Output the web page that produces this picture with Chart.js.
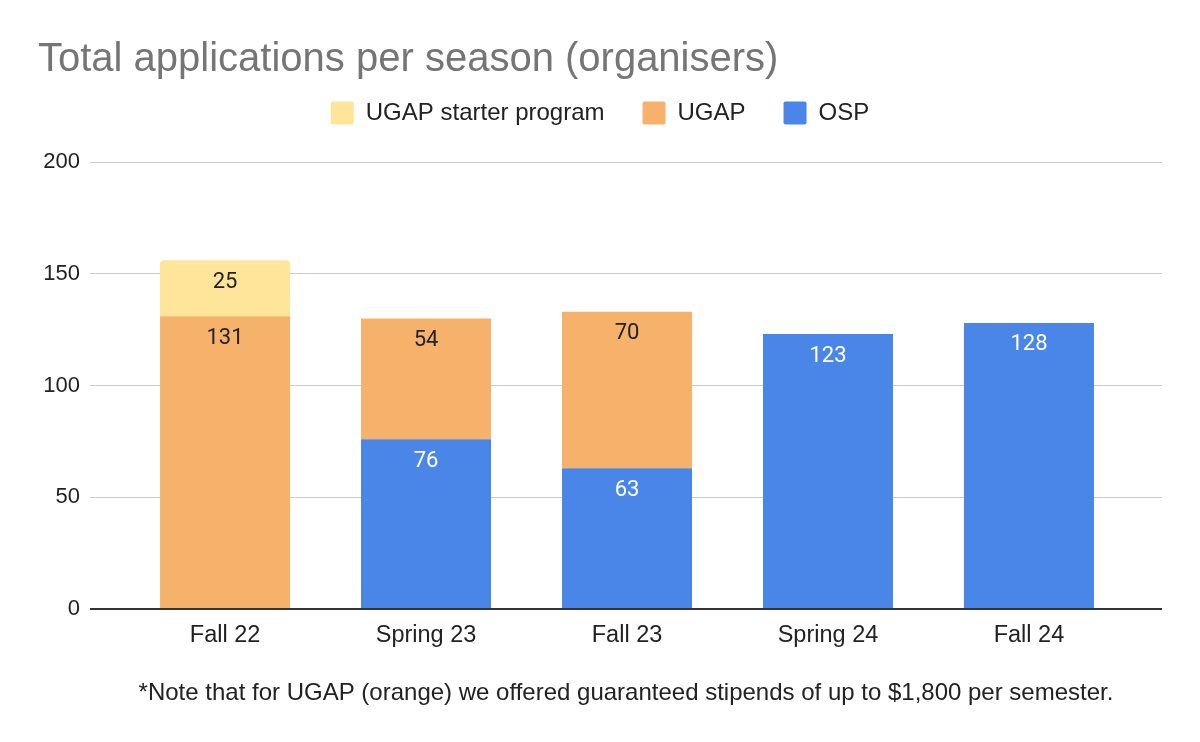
<!DOCTYPE html>
<html>
<head>
<meta charset="utf-8">
<script src="https://cdn.jsdelivr.net/npm/chart.js@4.4.0/dist/chart.umd.min.js"></script>
<style>
  html, body { margin: 0; padding: 0; background: #ffffff; }
  #wrap { width: 1200px; height: 742px; position: relative; }
</style>
</head>
<body>
<div id="wrap"><canvas id="c"></canvas></div>
<script>
// ---- data ----
const categories = ['Fall 22', 'Spring 23', 'Fall 23', 'Spring 24', 'Fall 24'];
const ospValues = [0, 76, 63, 123, 128];
const ugapValues = [131, 54, 70, 0, 0];
const starterValues = [25, 0, 0, 0, 0];
const seriesNames = ['OSP', 'UGAP', 'UGAP starter program'];
const yTickStep = 50;
const yMax = 200;
const titleText = 'Total applications per season (organisers)';
const noteText = '*Note that for UGAP (orange) we offered guaranteed stipends of up to $1,800 per semester.';

const colors = ['#4a86e8', '#f6b26b', '#ffe599'];
const labelColors = ['#ffffff', '#222222', '#222222'];

function toPoints(arr) { return arr.map((v, i) => ({ x: i, y: v })); }

const dataLabelPlugin = {
  id: 'dataLabels',
  afterDatasetsDraw(chart) {
    const ctx = chart.ctx;
    ctx.save();
    ctx.font = '22px Roboto';
    ctx.textAlign = 'center';
    ctx.textBaseline = 'middle';
    chart.data.datasets.forEach((ds, di) => {
      const meta = chart.getDatasetMeta(di);
      meta.data.forEach((el, i) => {
        const v = ds.data[i].y;
        if (!v) return;
        ctx.fillStyle = labelColors[di];
        ctx.fillText(String(v), el.x, el.y + 22);
      });
    });
    ctx.restore();
  }
};

const legendSpacer = {
  id: 'legendSpacer',
  beforeInit(chart) {
    const orig = chart.legend.fit;
    chart.legend.fit = function () {
      orig.bind(chart.legend)();
      this.height += 27;
    };
  }
};

new Chart(document.getElementById('c'), {
  type: 'bar',
  data: {
    datasets: [
      { label: seriesNames[0], data: toPoints(ospValues), backgroundColor: colors[0], borderWidth: 0 },
      { label: seriesNames[1], data: toPoints(ugapValues), backgroundColor: colors[1], borderWidth: 0 },
      { label: seriesNames[2], data: toPoints(starterValues), backgroundColor: colors[2], borderWidth: 0, borderRadius: 4 }
    ]
  },
  options: {
    responsive: true,
    maintainAspectRatio: false,
    animation: false,
    layout: { padding: { left: 38, right: 38, top: 0, bottom: 0 } },
    datasets: { bar: { categoryPercentage: 1, barPercentage: 0.647 } },
    scales: {
      x: {
        type: 'linear',
        stacked: true,
        offset: false,
        min: -0.672,
        max: 4.662,
        grid: { display: false, drawTicks: false, offset: false },
        border: { display: false },
        ticks: {
          stepSize: 1,
          includeBounds: false,
          autoSkip: false,
          maxRotation: 0,
          padding: 12,
          color: '#222222',
          font: { family: 'Liberation Sans', size: 23.5 },
          callback: (v) => (Number.isInteger(v) && categories[v] !== undefined) ? categories[v] : ''
        },
        title: {
          display: true,
          text: noteText,
          color: '#222222',
          font: { family: 'Liberation Sans', size: 24 },
          padding: { top: 18, bottom: 34 }
        }
      },
      y: {
        stacked: true,
        min: 0,
        max: yMax,
        border: { display: false },
        grid: {
          drawTicks: false,
          color: (c) => (c.tick && c.tick.value === 0) ? '#333333' : '#cccccc',
          lineWidth: (c) => (c.tick && c.tick.value === 0) ? 2 : 1
        },
        ticks: {
          stepSize: yTickStep,
          padding: 10,
          color: '#222222',
          font: { family: 'Liberation Sans', size: 22 }
        },
        afterFit(scale) { scale.width = 52; }
      }
    },
    plugins: {
      title: {
        display: true,
        text: titleText,
        align: 'start',
        color: '#757575',
        font: { family: 'Liberation Sans', size: 40, weight: 'normal' },
        padding: { top: 36, bottom: -21 }
      },
      legend: {
        display: true,
        reverse: true,
        labels: {
          boxWidth: 23,
          boxHeight: 23,
          padding: 38,
          useBorderRadius: true,
          borderRadius: 2,
          color: '#222222',
          font: { family: 'Liberation Sans', size: 24 }
        }
      },
      tooltip: { enabled: false }
    }
  },
  plugins: [dataLabelPlugin, legendSpacer]
});
</script>
</body>
</html>
